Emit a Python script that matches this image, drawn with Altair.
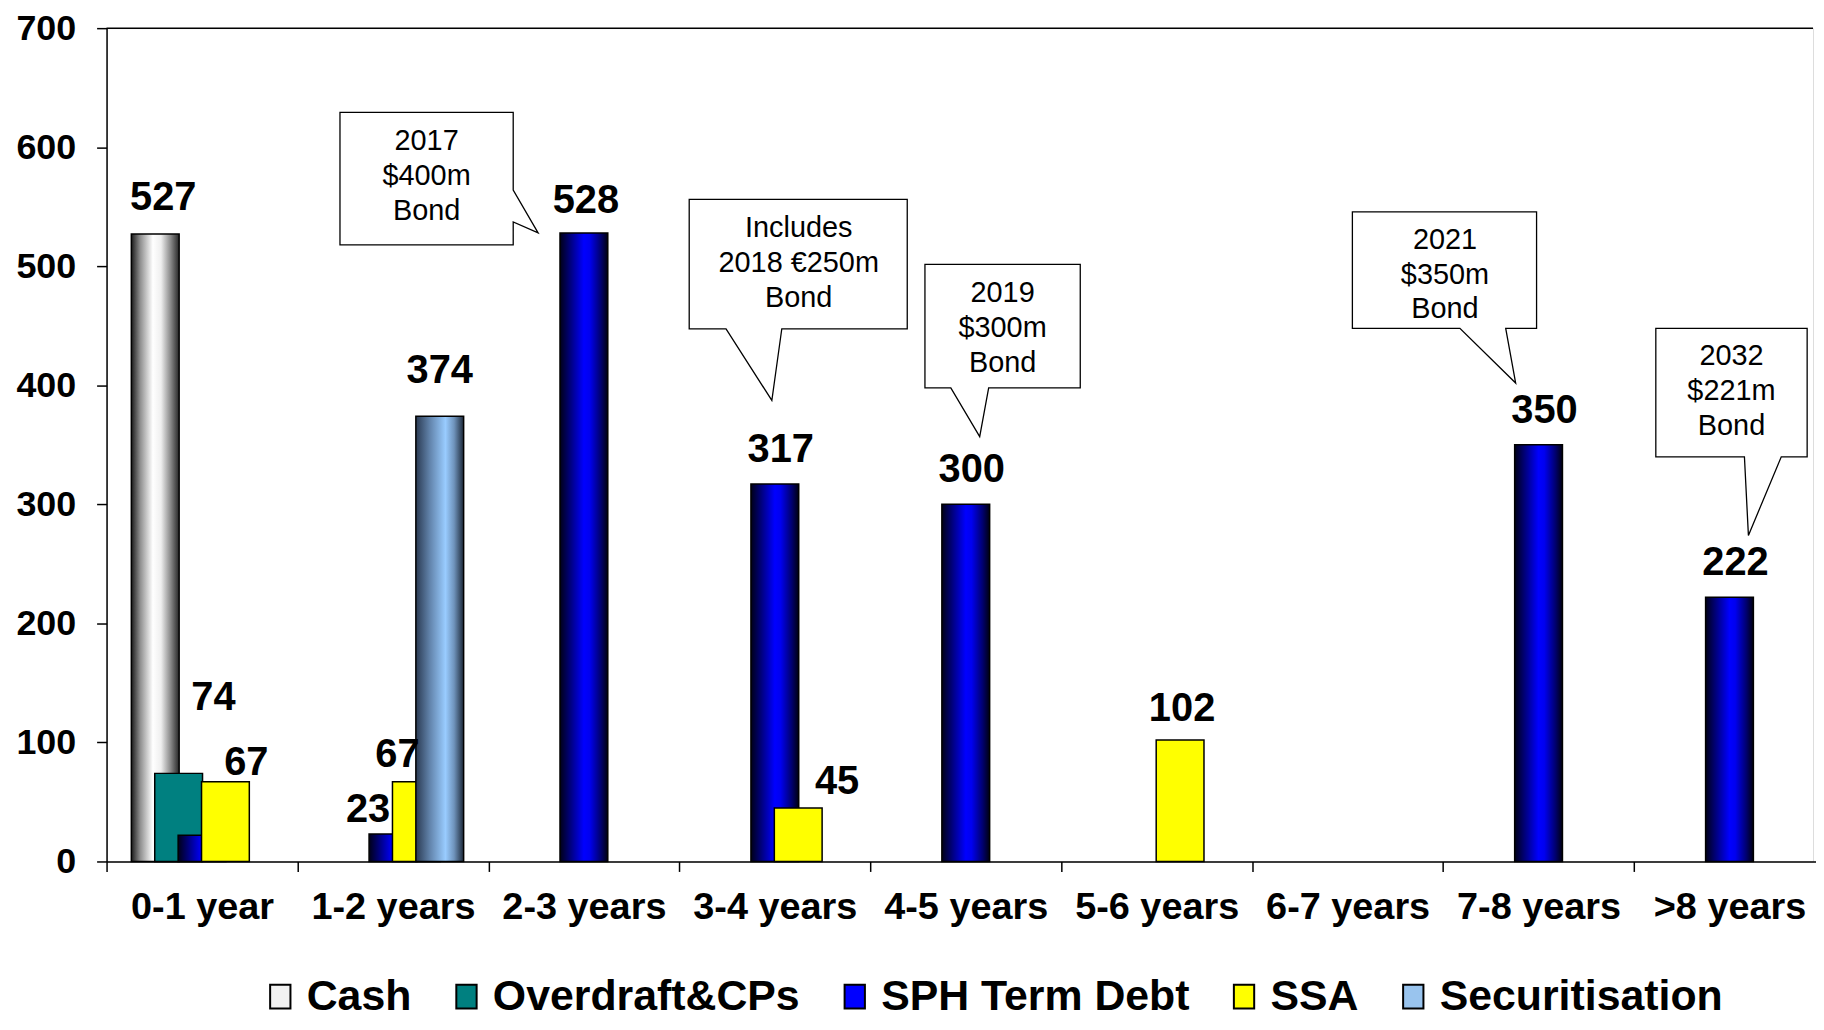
import altair as alt
import pandas as pd

# ---------------- data ----------------
categories = ["0-1 year", "1-2 years", "2-3 years", "3-4 years", "4-5 years",
              "5-6 years", "6-7 years", "7-8 years", ">8 years"]
series_names = ["Cash", "Overdraft&CPs", "SPH Term Debt", "SSA", "Securitisation"]

cash = [527, 0, 0, 0, 0, 0, 0, 0, 0]
overdraft_cps = [74, 0, 0, 0, 0, 0, 0, 0, 0]
sph_term_debt = [22, 23, 528, 317, 300, 0, 0, 350, 222]
ssa = [67, 67, 0, 45, 0, 102, 0, 0, 0]
securitisation = [0, 374, 0, 0, 0, 0, 0, 0, 0]

hidden_labels = [("0-1 year", "SPH Term Debt")]

callout_categories = ["2-3 years", "3-4 years", "4-5 years", "7-8 years", ">8 years"]
callout_lines = [["2017", "$400m", "Bond"],
                 ["Includes", "2018 €250m", "Bond"],
                 ["2019", "$300m", "Bond"],
                 ["2021", "$350m", "Bond"],
                 ["2032", "$221m", "Bond"]]

# ---------------- layout / styles ----------------
FONT = "Liberation Sans"
VIEW_W, PLOT_H = 1714, 837
X_RANGE = 1726          # the category axis runs slightly past the right edge (cropped)
Y_MAX = 700
HALF_BAND = X_RANGE / len(categories) / 2
PX_PER_UNIT = PLOT_H / Y_MAX

series_values = dict(zip(series_names, [cash, overdraft_cps, sph_term_debt, ssa, securitisation]))
series_offset = {"Cash": -47, "Overdraft&CPs": -23.5, "SPH Term Debt": 0,
                 "SSA": 23.5, "Securitisation": 47}


def grad(stops):
    return alt.LinearGradient(
        gradient="linear", x1=0, x2=1, y1=0, y2=0,
        stops=[alt.GradientStop(offset=o, color=c) for o, c in stops])


fills = {
    "Cash": grad([(0, "#1a1a1a"), (0.18, "#8c8c8c"), (0.45, "#ffffff"),
                  (0.62, "#efefef"), (0.82, "#8a8a8a"), (1, "#262626")]),
    "Overdraft&CPs": "#008080",
    "SPH Term Debt": grad([(0, "#000018"), (0.25, "#00008c"), (0.5, "#0000ff"),
                           (0.62, "#0000f0"), (0.85, "#000070"), (1, "#000010")]),
    "SSA": "#ffff00",
    "Securitisation": grad([(0, "#2a3a52"), (0.3, "#6385ad"), (0.62, "#99ccff"),
                            (0.8, "#6f93bb"), (1, "#1c2838")]),
}
legend_colors = ["#f2f2f2", "#008080", "#0000ff", "#ffff00", "#99c4ee"]

# label nudges (dx px, gap px above bar top); default (6, 34)
DEFAULT_NUDGE = (6, 34)
label_nudge = {
    ("0-1 year", "Cash"): (8, 36),
    ("0-1 year", "Overdraft&CPs"): (35, 76),
    ("0-1 year", "SSA"): (21, 19),
    ("1-2 years", "SPH Term Debt"): (-25, 24),
    ("1-2 years", "SSA"): (-19, 27),
    ("1-2 years", "Securitisation"): (0, 45),
    ("2-3 years", "SPH Term Debt"): (2, 32),
    ("3-4 years", "SSA"): (39, 26),
    ("5-6 years", "SSA"): (2, 31),
}

# callout shapes, in pixels relative to the top centre of the bar they point to
callout_paths = [
    "M-245,-121H-71V-43L-46,0L-71,-11V12H-245Z",
    "M-86,-286H133V-156H7L-3,-84L-49,-156H-86Z",
    "M-41,-241H115V-117H23L14,-68L-15,-117H-41Z",
    "M-187,-234H-2V-117H-33L-23,-62L-79,-117H-187Z",
    "M-74,-270H78V-141H52L19,-62L15,-141H-74Z",
]
# middle line of each callout text (dx, dy) in px from the anchor; line spacing 35 px
callout_text_offsets = [(-158, -57), (24, -222), (37, -177), (-94, -171), (2, -207)]
LINE_H = 35

# ---------------- tables ----------------
rows = []
for s in series_names:
    for c, v in zip(categories, series_values[s]):
        if v > 0:
            rows.append({"category": c, "series": s, "value": v})
df = pd.DataFrame(rows)

lab_rows = []
for r in rows:
    key = (r["category"], r["series"])
    if key in hidden_labels:
        continue
    dx, gap = label_nudge.get(key, DEFAULT_NUDGE)
    lab_rows.append({"category": r["category"], "label": str(r["value"]),
                     "value": r["value"] + gap / PX_PER_UNIT,
                     "ldx": HALF_BAND + series_offset[r["series"]] + dx})
lab = pd.DataFrame(lab_rows)

callouts = pd.DataFrame({
    "category": callout_categories,
    "value": [sph_term_debt[categories.index(c)] for c in callout_categories],
    "path": callout_paths,
})

ct_rows = []
for c, lines, (tdx, tdy) in zip(callout_categories, callout_lines, callout_text_offsets):
    anchor = sph_term_debt[categories.index(c)]
    for i, line in enumerate(lines):
        dy = tdy + (i - 1) * LINE_H
        ct_rows.append({"category": c, "text": line,
                        "value": anchor - dy / PX_PER_UNIT, "tdx": HALF_BAND + tdx})
callout_text = pd.DataFrame(ct_rows)

# ---------------- encodings ----------------
X = alt.X("category:N", sort=categories,
          scale=alt.Scale(domain=categories, paddingInner=0, paddingOuter=0,
                          range=[0, X_RANGE]),
          axis=alt.Axis(title=None, labelAngle=0, labelFont=FONT, labelFontSize=38,
                        labelFontWeight="bold", labelColor="black", labelPadding=17,
                        tickSize=10, tickColor="black", tickWidth=1.5, tickBand="extent",
                        domainColor="black", domainWidth=1.5, grid=False))
Y = alt.Y("value:Q", scale=alt.Scale(domain=[0, Y_MAX], nice=False),
          axis=alt.Axis(title=None, values=list(range(0, 701, 100)), labelFont=FONT,
                        labelFontSize=36, labelFontWeight="bold", labelColor="black",
                        labelPadding=21, tickSize=10, tickColor="black", tickWidth=1.5,
                        domainColor="black", domainWidth=1.5, grid=False))

layers = []

top_line = alt.Chart(pd.DataFrame({"value": [Y_MAX]})).mark_rule(
    color="black", strokeWidth=1.5).encode(y=Y)
layers.append(top_line)

legend_layer = alt.Chart(pd.DataFrame({"series": series_names, "category": categories[0],
                                       "value": 0})).mark_square(opacity=0).encode(
    x=X, y=Y,
    color=alt.Color("series:N", sort=series_names,
                    scale=alt.Scale(domain=series_names, range=legend_colors),
                    legend=alt.Legend(
                        title=None, orient="none", legendX=153, legendY=951,
                        direction="horizontal",
                        symbolType="M-0.85,-1H0.85V1H-0.85Z", symbolSize=576,
                        symbolStrokeColor="black", symbolStrokeWidth=2,
                        symbolOpacity=1, labelFont=FONT, labelFontSize=43,
                        labelFontWeight="bold", labelColor="black", labelLimit=800,
                        labelOffset=5, columnPadding=33, padding=0)))
layers.append(legend_layer)

for s in series_names:
    d = df[df.series == s]
    layers.append(alt.Chart(d).mark_bar(width=48, fill=fills[s], stroke="black",
                                        strokeWidth=1.5).encode(
        x=X, y=Y, xOffset=alt.value(HALF_BAND + series_offset[s])))

labels = alt.Chart(lab).mark_text(font=FONT, fontSize=40, fontWeight="bold",
                                  color="black", baseline="middle", align="center").encode(
    x=X, y=Y, text="label:N",
    xOffset=alt.XOffset("ldx:Q", scale=None))
layers.append(labels)

callout_shapes = alt.Chart(callouts).mark_point(
    filled=True, fill="white", stroke="black", strokeWidth=1.3, opacity=1, size=4).encode(
    x=X, y=Y, shape=alt.Shape("path:N", scale=None))
layers.append(callout_shapes)

callout_labels = alt.Chart(callout_text).mark_text(
    font=FONT, fontSize=29, color="black", baseline="middle", align="center").encode(
    x=X, y=Y, text="text:N",
    xOffset=alt.XOffset("tdx:Q", scale=None))
layers.append(callout_labels)

chart = alt.layer(*layers).properties(
    width=VIEW_W, height=PLOT_H,
    autosize=alt.AutoSizeParams(type="none"),
    padding={"left": 99, "top": 18, "right": 3, "bottom": 159},
).configure_view(strokeWidth=0).configure(font=FONT, background="white")

chart.save("out.html", embed_options={"renderer": "svg", "actions": False})
